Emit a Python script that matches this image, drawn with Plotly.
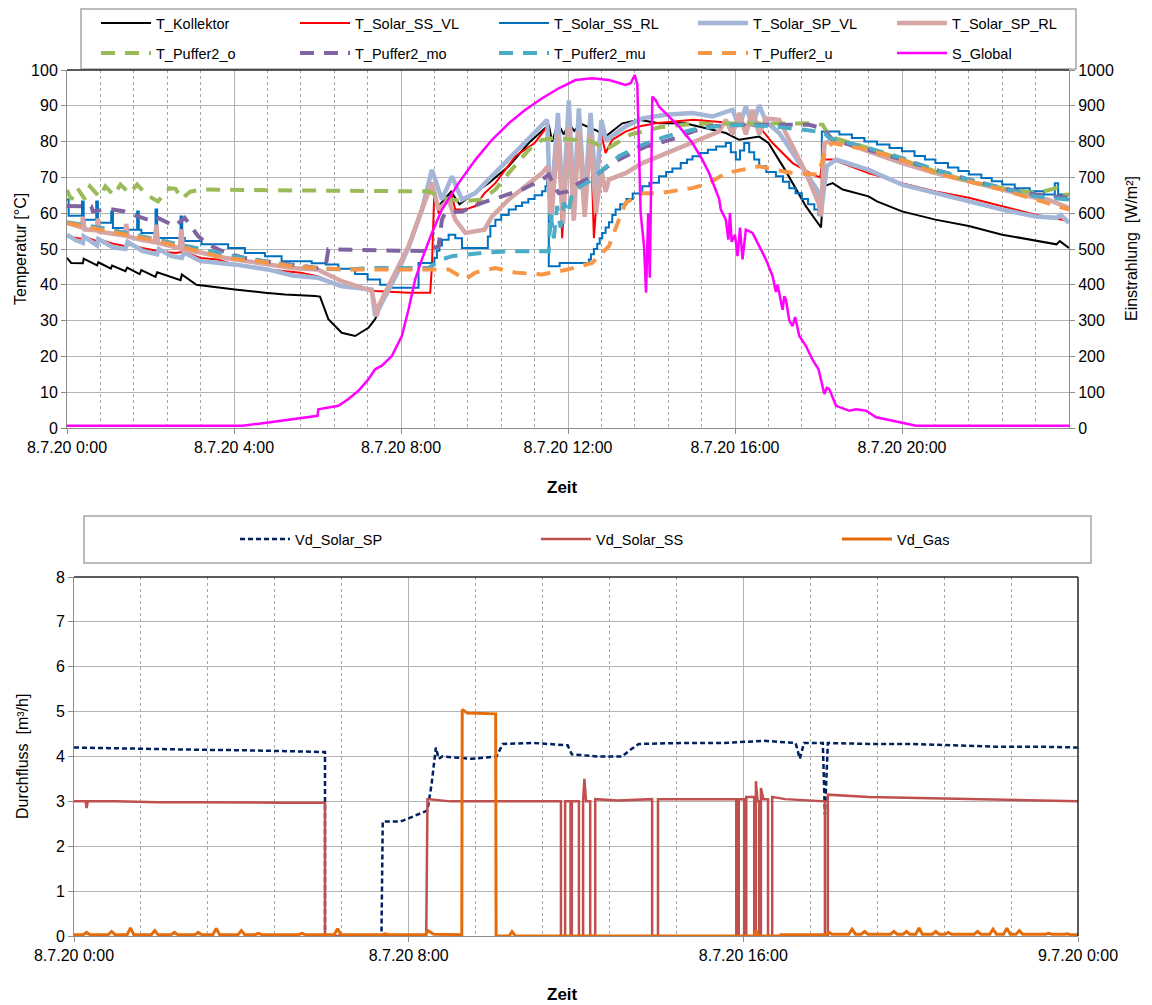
import plotly.graph_objects as go

# ---------------- data (time in hours since 8.7.20 0:00) ----------------
# top chart: temperatures [°C]
T_Kollektor = [(0, 47.5), (0.1, 46.1), (0.38, 46.0), (0.4, 47.3), (0.72, 45.4), (0.75, 46.3), (1.05, 44.5), (1.08, 45.4),
               (1.4, 43.8), (1.44, 44.8), (1.74, 43.0), (1.78, 44.1), (2.12, 42.2), (2.16, 43.5), (2.72, 41.3), (2.75, 42.9),
               (3.1, 40.0), (3.62, 39.2), (4.02, 38.7), (4.74, 37.8), (5.22, 37.3), (5.94, 36.9), (6.06, 36.7), (6.26, 30.4),
               (6.58, 26.6), (6.9, 25.7), (7.22, 28.0), (7.38, 30.4), (7.6, 36.0), (7.9, 43.0), (8.2, 51.0), (8.5, 61.0),
               (8.74, 68.5), (8.9, 62.0), (9.2, 66.0), (9.4, 62.5), (9.54, 63.8), (9.8, 66.0), (10.1, 68.4), (10.58, 73.1),
               (11.06, 79.6), (11.54, 84.7), (11.62, 80.0), (11.76, 85.0), (11.9, 82.0), (12.02, 85.0), (12.15, 83.0),
               (12.3, 85.0), (12.5, 84.0), (12.7, 83.0), (12.9, 81.4), (13.3, 85.1), (13.7, 86.1), (14.18, 85.1), (14.8, 85.1),
               (15.3, 83.7), (15.78, 82.4), (16.1, 80.5), (16.58, 81.4), (16.8, 79.6), (17.2, 72.1), (17.7, 61.9), (18.02, 56.4),
               (18.06, 56.0), (18.12, 67.5), (18.34, 68.4), (18.58, 66.6), (19.2, 64.7), (19.4, 63.3), (20.0, 60.5), (20.8, 58.2),
               (21.6, 56.4), (22.4, 54.0), (23.06, 52.6), (23.7, 51.3), (23.78, 52.2), (24.0, 50.3)]

T_Solar_SS_VL = [(0, 53.5), (0.38, 52.8), (0.4, 53.5), (0.72, 52.2), (0.75, 52.8), (1.1, 51.5), (1.4, 50.8), (1.5, 51.2),
                 (1.8, 50.3), (2.2, 49.4), (2.6, 48.9), (2.8, 49.2), (3.2, 47.5), (3.6, 47.1), (4.0, 45.7), (4.4, 45.2),
                 (4.8, 44.3), (5.2, 43.8), (5.6, 43.4), (6.0, 42.4), (6.58, 39.6), (7.38, 38.3), (8.18, 37.8), (8.7, 37.8),
                 (8.74, 45.2), (8.8, 66.6), (8.9, 60.0), (9.14, 63.8), (9.2, 65.6), (9.3, 61.0), (9.54, 61.0), (9.78, 62.0),
                 (10.0, 65.6), (10.26, 68.4), (10.74, 75.9), (11.2, 79.6), (11.5, 84.2), (11.58, 55.0), (11.76, 85.0),
                 (11.86, 53.0), (12.02, 86.0), (12.12, 58.0), (12.26, 85.0), (12.38, 60.0), (12.54, 84.0), (12.62, 53.0),
                 (12.8, 82.0), (12.9, 76.8), (13.06, 80.5), (13.38, 82.8), (13.7, 84.2), (14.1, 85.1), (14.5, 85.6),
                 (15.0, 86.1), (15.5, 85.6), (16.0, 85.1), (16.58, 84.2), (16.9, 79.6), (17.38, 74.0), (17.86, 70.8),
                 (18.04, 70.0), (18.1, 75.0), (18.34, 75.0), (19.2, 71.2), (20.0, 68.4), (20.8, 66.1), (21.6, 64.3),
                 (22.4, 62.0), (23.2, 59.6), (24.0, 57.8)]

# stepped series (drawn with horizontal-vertical steps)
T_Solar_SS_RL = [(0, 63.8), (0.04, 59.3), (0.36, 63.3), (0.4, 58.2), (0.7, 63.3), (0.74, 57.3), (1.06, 60.5), (1.1, 55.9),
                 (1.46, 55.4), (1.68, 60.5), (1.72, 55.4), (1.78, 54.5), (2.12, 61.0), (2.16, 53.1), (2.72, 59.1),
                 (2.76, 53.1), (2.82, 52.2), (3.22, 51.3), (3.86, 50.3), (4.26, 48.9), (4.74, 48.0), (5.14, 46.6),
                 (5.86, 46.0), (6.2, 45.7), (6.5, 44.5), (6.9, 43.0), (7.2, 41.5), (7.5, 40.0), (7.7, 39.2), (8.42, 46.1),
                 (8.8, 47.5), (8.86, 49.5), (8.92, 51.0), (8.98, 52.6), (9.14, 54.0), (9.3, 53.0), (9.46, 50.3),
                 (10.08, 53.5), (10.14, 56.4), (10.26, 58.2), (10.4, 59.5), (10.58, 61.0), (10.75, 62.0), (10.9, 63.0),
                 (11.05, 64.0), (11.2, 65.0), (11.38, 66.1), (11.46, 67.5), (11.5, 69.4), (11.54, 45.2), (11.8, 46.1),
                 (12.5, 47.1), (12.55, 48.5), (12.62, 50.0), (12.7, 51.5), (12.76, 53.0), (12.82, 54.5), (12.9, 56.0),
                 (12.98, 57.5), (13.06, 59.5), (13.14, 61.0), (13.25, 62.5), (13.4, 64.0), (13.55, 65.5), (13.78, 67.5),
                 (13.95, 68.5), (14.18, 70.3), (14.35, 71.5), (14.5, 72.5), (14.7, 74.0), (14.85, 75.0), (14.98, 75.9),
                 (15.15, 76.8), (15.35, 77.7), (15.55, 78.6), (15.78, 79.6), (15.9, 77.0), (16.02, 75.0), (16.12, 77.5),
                 (16.22, 79.6), (16.34, 77.0), (16.46, 75.0), (16.58, 73.1), (16.75, 71.5), (16.98, 70.3), (17.15, 68.8),
                 (17.3, 67.0), (17.45, 65.6), (17.6, 64.0), (17.75, 62.5), (17.9, 61.0), (18.0, 59.6), (18.08, 82.8),
                 (18.5, 82.0), (18.8, 81.0), (19.1, 80.0), (19.4, 79.2), (19.7, 78.2), (20.0, 77.3), (20.3, 76.0),
                 (20.55, 75.0), (20.8, 74.0), (21.1, 72.8), (21.35, 71.8), (21.6, 70.8), (21.9, 69.8), (22.15, 68.9),
                 (22.4, 68.0), (22.7, 67.0), (23.06, 66.1), (23.4, 65.2), (23.66, 68.4), (23.74, 65.2), (23.9, 63.8),
                 (24.0, 63.8)]

T_Solar_SP_VL = [(0, 54.0), (0.2, 52.5), (0.38, 51.7), (0.4, 53.5), (0.72, 51.0), (0.75, 52.8), (1.1, 50.5), (1.4, 50.0),
                 (1.45, 52.0), (1.8, 49.5), (2.16, 48.5), (2.2, 50.0), (2.5, 48.0), (2.75, 47.5), (2.8, 49.0), (3.2, 46.6),
                 (4.0, 45.7), (4.8, 44.3), (5.4, 42.6), (6.0, 42.0), (6.58, 39.6), (7.3, 38.7), (7.38, 31.3), (7.6, 36.0),
                 (7.9, 43.0), (8.2, 51.0), (8.5, 61.0), (8.74, 72.1), (8.98, 63.8), (9.22, 70.3), (9.46, 63.8), (9.78, 65.6),
                 (10.1, 69.4), (10.58, 74.9), (11.06, 80.5), (11.5, 86.1), (11.58, 60.0), (11.76, 88.0), (11.88, 61.0),
                 (12.02, 91.5), (12.14, 62.0), (12.26, 89.3), (12.4, 63.0), (12.54, 88.0), (12.67, 66.0), (12.8, 86.0),
                 (12.92, 80.0), (12.98, 81.0), (13.38, 84.2), (13.78, 86.5), (14.34, 87.5), (14.98, 88.0), (15.46, 87.0),
                 (15.94, 88.9), (16.1, 84.2), (16.26, 89.8), (16.42, 84.5), (16.58, 90.2), (16.74, 85.6), (17.06, 82.4),
                 (17.38, 76.8), (17.78, 70.0), (18.0, 66.0), (18.06, 60.1), (18.2, 73.1), (18.42, 75.0), (19.2, 72.1),
                 (20.0, 68.0), (20.8, 65.6), (21.6, 63.3), (22.4, 61.0), (23.2, 59.1), (23.7, 58.7), (23.8, 59.5),
                 (24.0, 57.3)]

T_Solar_SP_RL = [(0, 57.3), (0.2, 56.5), (0.36, 56.0), (0.38, 59.0), (0.42, 55.5), (0.7, 55.2), (0.74, 58.5), (0.78, 54.8),
                 (1.1, 54.3), (1.38, 53.8), (1.42, 57.0), (1.46, 53.5), (1.8, 52.5), (2.1, 51.9), (2.14, 56.8), (2.18, 51.7),
                 (2.7, 50.2), (2.74, 55.5), (2.78, 49.8), (3.2, 49.0), (3.8, 47.5), (4.6, 46.1), (5.4, 44.7), (6.0, 44.3),
                 (6.58, 41.0), (7.3, 38.3), (7.42, 31.3), (7.46, 34.0), (7.78, 41.5), (8.18, 50.8), (8.5, 61.0), (8.74, 68.4),
                 (8.9, 61.0), (9.14, 63.8), (9.3, 58.2), (9.54, 54.5), (10.0, 55.4), (10.18, 59.1), (10.58, 63.8),
                 (10.98, 67.5), (11.38, 71.2), (11.52, 73.1), (11.6, 58.0), (11.76, 82.0), (11.88, 57.0), (12.02, 84.0),
                 (12.14, 58.0), (12.26, 83.0), (12.4, 59.0), (12.54, 82.0), (12.67, 60.0), (12.8, 72.0), (12.9, 66.0),
                 (12.98, 69.4), (13.38, 71.2), (13.78, 74.0), (14.18, 75.9), (14.58, 77.7), (14.98, 79.6), (15.38, 81.4),
                 (15.62, 82.8), (15.78, 86.1), (15.94, 82.0), (16.1, 88.0), (16.26, 82.0), (16.42, 88.9), (16.58, 82.0),
                 (16.74, 86.5), (17.06, 86.1), (17.38, 78.6), (17.7, 71.2), (18.0, 62.9), (18.06, 59.1), (18.14, 79.6),
                 (18.42, 80.5), (19.2, 77.3), (20.0, 74.0), (20.8, 71.2), (21.6, 68.9), (22.4, 66.6), (23.2, 64.3),
                 (23.5, 63.8), (23.7, 62.8), (24.0, 61.5)]

T_Puffer2_o = [(0, 66.5), (0.1, 63.8), (0.25, 67.0), (0.42, 64.0), (0.55, 67.5), (0.78, 64.5), (0.92, 67.5), (1.12, 65.0),
               (1.28, 68.0), (1.5, 65.5), (1.68, 68.0), (1.92, 65.0), (2.18, 63.3), (2.45, 67.0), (2.6, 66.8), (2.75, 64.0),
               (2.95, 66.0), (3.2, 66.6), (5.0, 66.4), (8.66, 66.1), (9.0, 64.3), (9.46, 63.3), (9.94, 63.8), (10.26, 66.6),
               (10.58, 71.2), (11.06, 77.7), (11.38, 80.5), (11.7, 81.0), (12.58, 80.0), (12.9, 77.7), (13.5, 82.0),
               (14.2, 84.0), (15.0, 85.0), (17.78, 85.1), (18.1, 84.7), (18.26, 81.4), (19.2, 78.2), (20.0, 74.9),
               (20.8, 71.7), (21.6, 68.9), (22.4, 67.0), (23.2, 65.6), (23.5, 66.6), (23.7, 67.0), (23.78, 65.0),
               (24.0, 65.2)]

T_Puffer2_mo = [(0, 62.0), (0.26, 61.9), (0.58, 61.9), (0.62, 60.5), (0.9, 61.0), (1.1, 61.0), (1.38, 60.5), (1.7, 59.1),
                (1.94, 58.2), (2.1, 59.1), (2.42, 57.3), (2.58, 56.4), (2.82, 58.7), (3.14, 53.6), (3.38, 51.3),
                (3.62, 49.9), (3.94, 48.5), (4.26, 47.5), (4.74, 46.6), (5.38, 45.7), (6.0, 44.7), (6.2, 45.5),
                (6.26, 49.9), (8.66, 49.4), (8.9, 50.8), (8.98, 58.2), (9.06, 60.1), (9.46, 60.5), (9.94, 62.9),
                (10.42, 64.7), (10.9, 66.6), (11.38, 69.4), (11.54, 70.8), (11.7, 67.0), (11.78, 65.6), (12.0, 66.1),
                (12.26, 68.4), (12.74, 71.2), (13.06, 74.0), (13.38, 75.9), (13.86, 78.6), (14.18, 79.6), (14.58, 81.0),
                (14.98, 82.8), (15.38, 84.2), (15.94, 84.7), (17.78, 84.7), (18.1, 83.7), (18.34, 80.5), (19.2, 77.7),
                (20.0, 74.9), (20.8, 72.1), (21.6, 69.4), (22.4, 67.0), (23.2, 65.2), (24.0, 64.3)]

T_Puffer2_mu = [(0, 57.5), (1.0, 55.5), (2.0, 53.0), (3.0, 50.5), (4.0, 48.0), (5.0, 46.0), (6.0, 44.5), (6.74, 44.3),
                (7.38, 44.7), (8.66, 44.7), (8.98, 47.1), (9.22, 48.0), (9.94, 48.9), (10.58, 49.4), (11.54, 49.4),
                (11.58, 60.0), (11.66, 53.0), (11.74, 62.0), (11.82, 56.0), (11.9, 63.0), (12.0, 60.0), (12.1, 65.6),
                (12.3, 67.5), (12.58, 69.4), (12.82, 72.1), (13.22, 75.9), (13.78, 79.1), (14.34, 81.4), (14.98, 83.3),
                (15.54, 84.2), (16.18, 84.7), (16.98, 84.2), (17.54, 83.3), (18.0, 82.8), (18.1, 82.8), (18.26, 81.0),
                (19.2, 78.2), (20.0, 75.4), (20.8, 72.1), (21.6, 69.4), (22.4, 67.0), (23.2, 64.7), (24.0, 63.8)]

T_Puffer2_u = [(0, 57.3), (0.58, 55.9), (1.38, 54.0), (2.18, 52.2), (2.98, 49.9), (3.78, 47.5), (4.58, 46.6), (5.38, 45.2),
               (6.0, 44.7), (6.58, 44.3), (8.66, 44.3), (9.14, 44.3), (9.54, 41.5), (9.78, 43.4), (10.26, 44.7),
               (10.74, 43.4), (11.38, 42.9), (12.0, 44.3), (12.58, 46.1), (12.98, 50.8), (13.22, 58.2), (13.38, 62.9),
               (13.78, 65.6), (14.18, 65.6), (14.98, 67.0), (15.38, 68.4), (15.78, 71.2), (16.18, 72.1), (16.58, 73.1),
               (16.98, 72.1), (17.38, 71.2), (18.0, 70.8), (18.18, 78.2), (18.34, 79.6), (19.2, 77.7), (20.0, 74.9),
               (20.8, 71.2), (21.6, 68.9), (22.4, 66.6), (23.2, 63.8), (24.0, 61.0)]

# irradiance [W/m²] (right axis)
S_Global = [(0, 6.5), (4.2, 6.5), (4.6, 12), (5.0, 18), (5.5, 25), (6.0, 34), (6.02, 52), (6.26, 58), (6.5, 62), (6.74, 81),
            (6.98, 104), (7.22, 136), (7.38, 164), (7.54, 174), (7.78, 201), (8.02, 257), (8.18, 331), (8.34, 415),
            (8.5, 471), (8.74, 545), (8.98, 610), (9.38, 684), (9.78, 749), (10.18, 805), (10.58, 851), (10.98, 889),
            (11.38, 921), (11.78, 949), (12.18, 972), (12.58, 977), (12.98, 972), (13.38, 958), (13.5, 963), (13.6, 986),
            (13.66, 960), (13.74, 601), (13.82, 508), (13.87, 378), (13.92, 600), (13.96, 420), (14.02, 926),
            (14.1, 916), (14.18, 898), (14.42, 870), (14.66, 842), (14.98, 796), (15.22, 749), (15.38, 712),
            (15.54, 666), (15.62, 640), (15.66, 610), (15.78, 582), (15.84, 526), (15.88, 601), (15.92, 520),
            (16.0, 540), (16.06, 480), (16.12, 560), (16.18, 471), (16.26, 554), (16.42, 545), (16.58, 508),
            (16.74, 471), (16.9, 424), (16.98, 380), (17.02, 400), (17.06, 378), (17.14, 330), (17.18, 368),
            (17.22, 359), (17.3, 300), (17.38, 285), (17.44, 310), (17.54, 257), (17.7, 229), (17.86, 190),
            (18.0, 164), (18.1, 110), (18.14, 95), (18.2, 112), (18.26, 108), (18.42, 62), (18.74, 48), (18.9, 52),
            (19.14, 48), (19.38, 30), (19.78, 20), (20.18, 11), (20.34, 6.5), (24.0, 6.5)]

# bottom chart: flow rates [m³/h]
Vd_Solar_SP = [(0, 4.2), (1.0, 4.18), (2.0, 4.17), (3.0, 4.15), (4.0, 4.14), (5.0, 4.12), (6.0, 4.1), (6.0, 0.0),
               (7.35, 0.0), (7.38, 2.55), (7.8, 2.55), (8.0, 2.62), (8.3, 2.75), (8.45, 2.8), (8.55, 3.4), (8.65, 4.2),
               (8.72, 3.95), (8.8, 4.0), (9.5, 3.95), (10.1, 4.0), (10.25, 4.28), (11.0, 4.3), (11.8, 4.25), (11.9, 4.05),
               (12.5, 4.0), (13.1, 4.0), (13.3, 4.15), (13.5, 4.28), (14.5, 4.3), (15.5, 4.3), (16.5, 4.35), (17.25, 4.3),
               (17.35, 3.95), (17.45, 4.3), (17.9, 4.3), (17.95, 2.7), (18.02, 4.3), (19.0, 4.28), (20.0, 4.28),
               (21.0, 4.25), (22.0, 4.22), (23.0, 4.22), (24.0, 4.2)]

Vd_Solar_SS = [(0, 3.0), (0.28, 3.0), (0.3, 2.85), (0.33, 3.0), (1, 3.0), (2, 2.98), (3, 2.98), (4, 2.97), (5, 2.97),
               (6.0, 2.97), (6.0, 0), (8.42, 0), (8.45, 3.05), (9, 3.0), (10, 3.0), (11, 3.0), (11.64, 3.0), (11.64, 0),
               (11.74, 0), (11.74, 3.0), (11.87, 3.0), (11.87, 0), (11.9, 0), (11.9, 3.0), (12.07, 3.0), (12.07, 0),
               (12.17, 0), (12.17, 3.0), (12.2, 3.5), (12.24, 3.0), (12.34, 3.0), (12.34, 0), (12.46, 0), (12.46, 3.05),
               (13.0, 3.02), (13.82, 3.05), (13.82, 0), (13.96, 0), (13.96, 3.05), (15.0, 3.05), (15.83, 3.05),
               (15.83, 0), (15.89, 0), (15.89, 3.05), (16.02, 3.05), (16.02, 0), (16.07, 0), (16.07, 3.1), (16.26, 3.1),
               (16.26, 0), (16.3, 0), (16.3, 3.45), (16.34, 3.0), (16.38, 3.0), (16.38, 0), (16.42, 0), (16.42, 3.3),
               (16.48, 3.05), (16.59, 3.05), (16.59, 0), (16.69, 0), (16.69, 3.1), (17.0, 3.05), (17.95, 3.0),
               (17.95, 0), (18.02, 0), (18.02, 3.15), (19, 3.1), (20, 3.08), (21, 3.05), (22, 3.03), (23, 3.02),
               (24, 3.0)]

Vd_Gas = [(0, 0.03), (0.22, 0.03), (0.3, 0.08), (0.38, 0.03), (0.82, 0.03), (0.9, 0.1), (0.98, 0.03), (1.27, 0.03),
          (1.35, 0.18), (1.43, 0.03), (1.85, 0.03), (1.93, 0.12), (2.01, 0.03), (2.32, 0.03), (2.4, 0.08), (2.48, 0.03),
          (2.89, 0.03), (2.97, 0.08), (3.05, 0.03), (3.32, 0.03), (3.4, 0.17), (3.48, 0.03), (3.92, 0.03), (4.0, 0.12),
          (4.08, 0.03), (4.33, 0.03), (4.41, 0.06), (4.49, 0.03), (5.37, 0.03), (5.45, 0.06), (5.53, 0.03), (6.22, 0.03),
          (6.3, 0.16), (6.38, 0.03), (7.36, 0.03), (7.44, 0.05), (7.52, 0.03), (8.4, 0.03), (8.46, 0.12), (8.6, 0.04),
          (9.27, 0.03), (9.28, 5.05), (9.4, 4.97), (10.08, 4.95), (10.09, 0.0), (10.4, 0.0), (10.47, 0.1), (10.55, 0.0),
          (16.25, 0.0), (16.3, 0.12), (16.35, 0.0), (16.9, 0.0), (16.9, 0.03), (17.98, 0.03), (18.05, 0.08),
          (18.12, 0.04), (18.52, 0.04), (18.6, 0.15), (18.68, 0.04), (18.82, 0.04), (18.9, 0.1), (18.98, 0.04),
          (19.52, 0.04), (19.6, 0.1), (19.68, 0.04), (19.82, 0.04), (19.9, 0.1), (19.98, 0.04), (20.12, 0.04),
          (20.2, 0.18), (20.28, 0.04), (20.52, 0.04), (20.6, 0.1), (20.68, 0.04), (20.82, 0.04), (20.9, 0.08),
          (20.98, 0.04), (21.52, 0.04), (21.6, 0.1), (21.68, 0.04), (21.89, 0.04), (21.97, 0.15), (22.05, 0.04),
          (22.22, 0.04), (22.3, 0.17), (22.38, 0.04), (22.52, 0.04), (22.6, 0.12), (22.68, 0.04), (23.22, 0.04),
          (23.3, 0.06), (23.38, 0.04), (23.67, 0.04), (23.75, 0.05), (23.82, 0.03), (24.0, 0.03)]

top_ticks = [0, 4, 8, 12, 16, 20]
top_ticktext = ["8.7.20 0:00", "8.7.20 4:00", "8.7.20 8:00", "8.7.20 12:00", "8.7.20 16:00", "8.7.20 20:00"]
bot_ticks = [0, 8, 16, 24]
bot_ticktext = ["8.7.20 0:00", "8.7.20 8:00", "8.7.20 16:00", "9.7.20 0:00"]

# ---------------- figure ----------------
W, H = 1152, 1005
FONT = "Liberation Sans, Arial, sans-serif"


def fx(p):
    return p / W


def fy(p):
    return 1 - p / H


def xs(s):
    return [a for a, b in s]


def ys(s):
    return [b for a, b in s]


fig = go.Figure()

top_series = [
    ("T_Kollektor", T_Kollektor, "#000000", 2, "solid", "linear", "legend"),
    ("T_Solar_SS_VL", T_Solar_SS_VL, "#FF0000", 2, "solid", "linear", "legend"),
    ("T_Solar_SS_RL", T_Solar_SS_RL, "#0070C0", 2, "solid", "hv", "legend"),
    ("T_Solar_SP_VL", T_Solar_SP_VL, "#A4B6D8", 4.5, "solid", "linear", "legend"),
    ("T_Solar_SP_RL", T_Solar_SP_RL, "#D5A6A5", 4.5, "solid", "linear", "legend"),
    ("T_Puffer2_o", T_Puffer2_o, "#9BBB59", 4, "14px,10px", "linear", "legend3"),
    ("T_Puffer2_mo", T_Puffer2_mo, "#8064A2", 4, "14px,10px", "linear", "legend3"),
    ("T_Puffer2_mu", T_Puffer2_mu, "#4BACC6", 4, "14px,10px", "linear", "legend3"),
    ("T_Puffer2_u", T_Puffer2_u, "#F79646", 4, "14px,10px", "linear", "legend3"),
]
for name, s, col, w, dash, shape, lg in top_series:
    fig.add_trace(go.Scatter(x=xs(s), y=ys(s), name=name, mode="lines",
                             line=dict(color=col, width=w, dash=dash, shape=shape),
                             xaxis="x", yaxis="y", legend=lg))
fig.add_trace(go.Scatter(x=xs(S_Global), y=ys(S_Global), name="S_Global", mode="lines",
                         line=dict(color="#FF00FF", width=2.5), xaxis="x", yaxis="y2", legend="legend3"))

fig.add_trace(go.Scatter(x=xs(Vd_Solar_SP), y=ys(Vd_Solar_SP), name="Vd_Solar_SP", mode="lines",
                         line=dict(color="#002060", width=2.5, dash="5px,3px"), xaxis="x2", yaxis="y3", legend="legend2"))
fig.add_trace(go.Scatter(x=xs(Vd_Solar_SS), y=ys(Vd_Solar_SS), name="Vd_Solar_SS", mode="lines",
                         line=dict(color="#C0504D", width=2.5), xaxis="x2", yaxis="y3", legend="legend2"))
fig.add_trace(go.Scatter(x=xs(Vd_Gas), y=ys(Vd_Gas), name="Vd_Gas", mode="lines",
                         line=dict(color="#E46C0A", width=3), xaxis="x2", yaxis="y3", legend="legend2"))

GRID = "#B3B3B3"
AXL = "#8C8C8C"
tickfont = dict(family=FONT, size=16, color="#000000")

top_x_dom = [fx(67), fx(1069)]
top_y_dom = [fy(428), fy(70)]
bot_x_dom = [fx(74), fx(1078)]
bot_y_dom = [fy(936), fy(577)]

legend_common = dict(orientation="h", xanchor="left", yanchor="top", entrywidthmode="pixels", itemwidth=50,
                     font=dict(family=FONT, size=14.5, color="#000000"), bgcolor="rgba(0,0,0,0)", borderwidth=0,
                     traceorder="normal", itemclick=False, itemdoubleclick=False)

fig.update_layout(
    width=W, height=H,
    margin=dict(l=0, r=0, t=0, b=0, autoexpand=False),
    paper_bgcolor="white", plot_bgcolor="white",
    font=dict(family=FONT, size=16, color="#000000"),
    xaxis=dict(domain=top_x_dom, anchor="y", range=[0, 24], tickmode="array", tickvals=top_ticks,
               ticktext=top_ticktext, ticks="outside", ticklen=5, tickcolor=AXL, showline=True, linecolor=AXL,
               linewidth=1, showgrid=True, gridcolor=GRID, gridwidth=1, zeroline=False, tickfont=tickfont,
               automargin=False,
               minor=dict(tickmode="linear", tick0=0, dtick=0.8, showgrid=True, gridcolor="#A6A6A6",
                          griddash="dot", gridwidth=1, ticks="")),
    yaxis=dict(domain=top_y_dom, anchor="x", range=[0, 100], dtick=10, ticks="outside", ticklen=5,
               tickcolor=AXL, showline=True, linecolor=AXL, showgrid=True, gridcolor=GRID, zeroline=False,
               tickfont=tickfont, automargin=False),
    yaxis2=dict(overlaying="y", side="right", anchor="x", range=[0, 1000], dtick=100, ticks="outside",
                ticklen=5, tickcolor=AXL, showline=True, linecolor=AXL, showgrid=False, zeroline=False,
                tickfont=tickfont, automargin=False),
    xaxis2=dict(domain=bot_x_dom, anchor="y3", range=[0, 24], tickmode="array", tickvals=bot_ticks,
                ticktext=bot_ticktext, ticks="outside", ticklen=5, tickcolor=AXL, showline=True, linecolor=AXL,
                showgrid=True, gridcolor=GRID, zeroline=False, tickfont=tickfont, automargin=False,
                minor=dict(tickmode="linear", tick0=0, dtick=1.6, showgrid=True, gridcolor="#A6A6A6",
                           griddash="dot", gridwidth=1, ticks="")),
    yaxis3=dict(domain=bot_y_dom, anchor="x2", range=[0, 8], dtick=1, ticks="outside", ticklen=5,
                tickcolor=AXL, showline=True, linecolor=AXL, showgrid=True, gridcolor=GRID, zeroline=False,
                tickfont=tickfont, automargin=False),
    legend=dict(x=fx(96), y=fy(7), entrywidth=134, **legend_common),
    legend3=dict(x=fx(96), y=fy(37), entrywidth=134, **legend_common),
    legend2=dict(x=fx(235), y=fy(523), entrywidth=236, **legend_common),
    showlegend=True,
)

# borders of legend boxes and plot-area frames
shapes = [
    dict(type="rect", xref="paper", yref="paper", x0=fx(81), x1=fx(1076), y0=fy(69), y1=fy(9),
         line=dict(color="#A6A6A6", width=1.5), fillcolor="rgba(0,0,0,0)", layer="above"),
    dict(type="rect", xref="paper", yref="paper", x0=fx(84), x1=fx(1091), y0=fy(563), y1=fy(516),
         line=dict(color="#A6A6A6", width=1.5), fillcolor="rgba(0,0,0,0)", layer="above"),
    dict(type="line", xref="paper", yref="paper", x0=fx(67), x1=fx(1069), y0=fy(70), y1=fy(70),
         line=dict(color="#262626", width=1.5)),
    dict(type="line", xref="paper", yref="paper", x0=fx(74), x1=fx(1078), y0=fy(577), y1=fy(577),
         line=dict(color="#262626", width=1.5)),
    dict(type="line", xref="paper", yref="paper", x0=fx(1078), x1=fx(1078), y0=fy(936), y1=fy(577),
         line=dict(color="#262626", width=1.5)),
]
fig.update_layout(shapes=shapes)

ann = [
    dict(text="Temperatur [°C]", x=fx(20), y=fy(249), textangle=-90, font=dict(size=16)),
    dict(text="Einstrahlung  [W/m²]", x=fx(1131), y=fy(249), textangle=-90, font=dict(size=16)),
    dict(text="<b>Zeit</b>", x=fx(562), y=fy(487), font=dict(size=17)),
    dict(text="Durchfluss  [m³/h]", x=fx(22), y=fy(757), textangle=-90, font=dict(size=16)),
    dict(text="<b>Zeit</b>", x=fx(562), y=fy(994), font=dict(size=17)),
]
for a in ann:
    a.update(xref="paper", yref="paper", showarrow=False, xanchor="center", yanchor="middle")
    a["font"]["family"] = FONT
    a["font"]["color"] = "#000000"
fig.update_layout(annotations=ann)

fig.write_html("out.html")
